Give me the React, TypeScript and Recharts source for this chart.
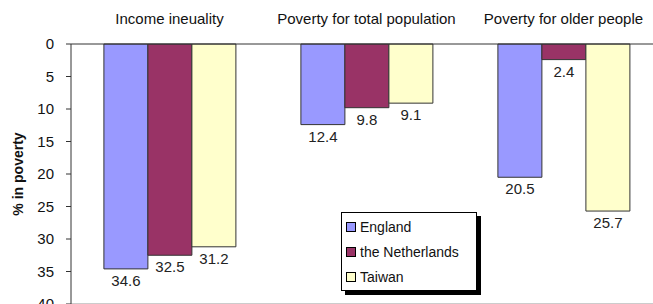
import React from 'react';
import { BarChart, Bar, XAxis, YAxis, Legend, LabelList, ReferenceLine } from 'recharts';

const categories = ['Income ineuality', 'Poverty for total population', 'Poverty for older people'];
const england = [34.6, 12.4, 20.5];
const netherlands = [32.5, 9.8, 2.4];
const taiwan = [31.2, 9.1, 25.7];
const yTicks = [0, 5, 10, 15, 20, 25, 30, 35, 40];

const series = [
  { key: 'england', name: 'England', color: '#9999FF' },
  { key: 'netherlands', name: 'the Netherlands', color: '#993366' },
  { key: 'taiwan', name: 'Taiwan', color: '#FFFFCC' },
];

const data = categories.map((name, i) => ({
  name,
  england: england[i],
  netherlands: netherlands[i],
  taiwan: taiwan[i],
}));

const FONT = '"Liberation Sans", Arial, sans-serif';

const renderLegend = () => (
  <div
    style={{
      border: '1px solid #000',
      boxShadow: '4px 4px 0 #000',
      background: '#fff',
      padding: '1px 4px',
      fontFamily: FONT,
      fontSize: 14,
      color: '#111',
      width: 126,
    }}
  >
    {series.map((s) => (
      <div key={s.key} style={{ display: 'flex', alignItems: 'center', height: 25 }}>
        <span
          style={{
            display: 'inline-block',
            width: 8,
            height: 8,
            background: s.color,
            border: '1px solid #000',
            marginRight: 4,
          }}
        />
        {s.name}
      </div>
    ))}
  </div>
);

const YLabel = (props: any) => {
  const { viewBox } = props;
  const cx = 18;
  const cy = viewBox.y + viewBox.height / 2;
  return (
    <text
      x={cx}
      y={cy}
      transform={`rotate(-90, ${cx}, ${cy})`}
      textAnchor="middle"
      dominantBaseline="central"
      fontFamily={FONT}
      fontSize={14}
      fontWeight="bold"
      fill="#111"
    >
      % in poverty
    </text>
  );
};

// value label under the end of each hanging bar
const ValueLabel = (props: any) => {
  const { x, y, width, height, value } = props;
  const bottom = Math.max(y, y + height);
  return (
    <text
      x={x + width / 2}
      y={bottom + 6}
      textAnchor="middle"
      dominantBaseline="hanging"
      fontFamily={FONT}
      fontSize={15}
      fill="#222"
    >
      {value}
    </text>
  );
};

export default function App() {
  return (
    <div style={{ position: 'absolute', left: 0, top: 0, width: 653, height: 304, overflow: 'hidden', background: '#fff' }}>
      <BarChart
        width={680}
        height={305}
        data={data}
        margin={{ top: 14, right: 18, left: 0, bottom: 1 }}
        barGap={0}
        barCategoryGap="16.7%"
      >
        <XAxis
          dataKey="name"
          orientation="top"
          height={30}
          axisLine={{ stroke: '#333' }}
          tickLine={false}
          tickMargin={14}
          tick={{ fill: '#111', fontSize: 15, fontFamily: FONT }}
          interval={0}
        />
        <YAxis
          reversed
          domain={[0, 40]}
          ticks={yTicks}
          width={71}
          interval={0}
          axisLine={{ stroke: '#333' }}
          tickLine={{ stroke: '#333' }}
          tickSize={5}
          tickMargin={12}
          tick={{ fill: '#111', fontSize: 15, fontFamily: FONT }}
          label={<YLabel />}
        />
        <ReferenceLine y={40} stroke="#999" />
        <Legend
          layout="vertical"
          align="center"
          verticalAlign="middle"
          content={renderLegend}
          wrapperStyle={{ left: 341, top: 212, width: 136 }}
        />
        {series.map((s) => (
          <Bar key={s.key} dataKey={s.key} name={s.name} fill={s.color} stroke="#333" strokeWidth={1} isAnimationActive={false}>
            <LabelList dataKey={s.key} content={<ValueLabel />} />
          </Bar>
        ))}
      </BarChart>
    </div>
  );
}
